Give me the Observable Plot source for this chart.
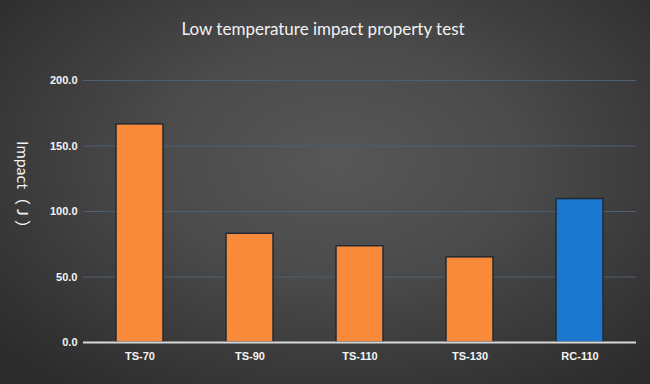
<!DOCTYPE html>
<html>
<head>
<meta charset="utf-8">
<script src="https://cdn.jsdelivr.net/npm/d3@7"></script>
<script src="https://cdn.jsdelivr.net/npm/@observablehq/plot@0.6"></script>
<style>
  html, body { margin: 0; padding: 0; background: #2a2a2a; }
  #wrap {
    position: relative; width: 650px; height: 384px; overflow: hidden;
    background: radial-gradient(ellipse 70% 75% at 52% 42%, #575757 0%, #4b4b4b 40%, #383838 75%, #2b2b2b 100%);
  }
  #title {
    position: absolute; left: 0; top: 18px; width: 646px; text-align: center;
    font-family: Lato, "Noto Sans", sans-serif; font-size: 17px; color: #f2f2f2;
  }
  #chart { position: absolute; left: 0; top: 0; }
  #chart svg { background: transparent; }
</style>
</head>
<body>
<div id="wrap">
  <div id="chart"></div>
  <div id="title">Low temperature impact property test</div>
</div>
<script>
const categories = ["TS-70", "TS-90", "TS-110", "TS-130", "RC-110"];
const values = [166.5, 83, 73.5, 65, 109.5];
const barColors = ["#f98a3a", "#f98a3a", "#f98a3a", "#f98a3a", "#1a78d0"];
const yTicks = [0, 50, 100, 150, 200];
const yLabel = "Impact（ J ）";

const data = categories.map((c, i) => ({category: c, value: values[i], color: barColors[i]}));

const chart = Plot.plot({
  width: 650,
  height: 384,
  marginTop: 80,
  marginBottom: 42,
  marginLeft: 83,
  marginRight: 14,
  style: {background: "transparent", color: "#f0f0f0", fontFamily: "'Liberation Sans Narrow', 'Arial Narrow', sans-serif"},
  x: {domain: categories, paddingInner: 0.575, paddingOuter: 0.2875, label: null},
  y: {domain: [0, 200], ticks: yTicks, label: null, tickFormat: d => d.toFixed(1)},
  marks: [
    Plot.gridY(yTicks.filter(d => d > 0), {stroke: "#4e6070", strokeOpacity: 1, strokeWidth: 1}),
    Plot.axisY({ticks: yTicks, tickSize: 0, tickPadding: 6, tickFormat: d => d.toFixed(1), fontSize: 11, fontWeight: "bold", fill: "#f4f4f4", label: null}),
    Plot.axisX({tickSize: 0, tickPadding: 10, fontSize: 11, fontWeight: "bold", fill: "#f4f4f4", label: null}),
    Plot.barY(data, {x: "category", y: "value", fill: "color", stroke: "#1f2a34", strokeWidth: 1.5}),
    Plot.barY(data, {x: "category", y1: d => d.value, y2: d => d.value - 2.2, fill: "#ffffff", fillOpacity: 0.28, inset: 2}),
    Plot.ruleY([0], {stroke: "#d8d8d8", strokeWidth: 2}),
    Plot.text([yLabel], {frameAnchor: "left", dx: -61, dy: -23, rotate: 90, textAnchor: "middle", fontSize: 16, fill: "#f4f4f4", fontFamily: "Lato, 'Noto Sans', 'Noto Sans CJK SC', sans-serif", text: d => d})
  ]
});
document.getElementById("chart").appendChild(chart);
</script>
</body>
</html>
